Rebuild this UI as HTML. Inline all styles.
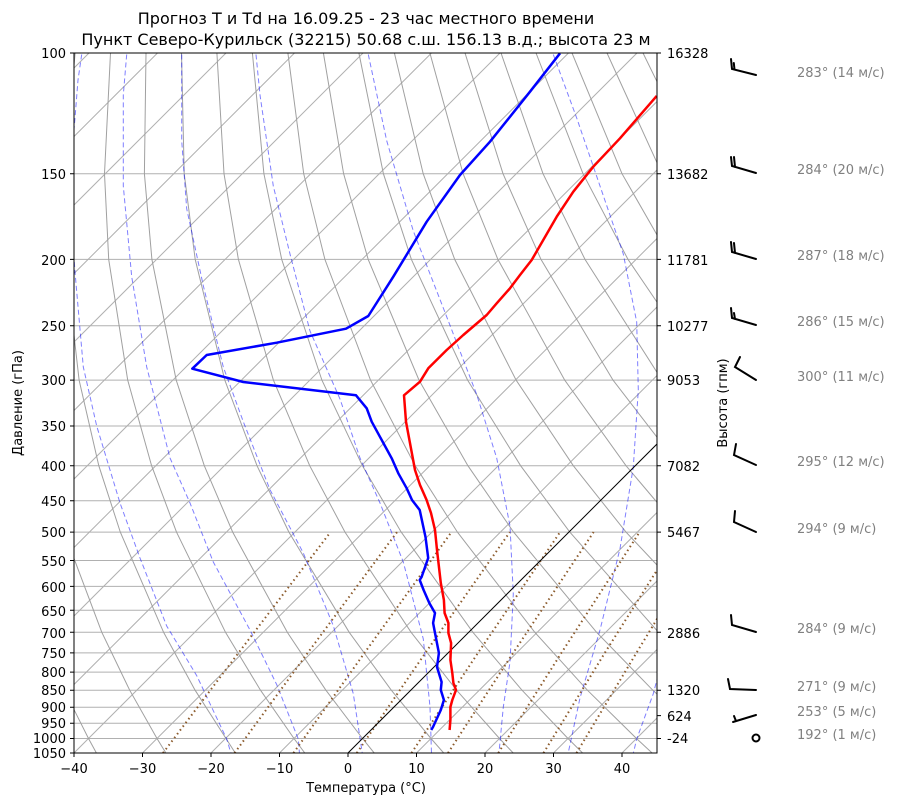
<!DOCTYPE html>
<html><head><meta charset="utf-8">
<style>
body{margin:0;background:#fff;}
svg{display:block;font-family:"DejaVu Sans","Liberation Sans",sans-serif;}
</style></head>
<body>
<svg width="900" height="806" xmlns="http://www.w3.org/2000/svg">
<defs><clipPath id="c"><rect x="74" y="53" width="583" height="700"/></clipPath></defs>
<rect width="900" height="806" fill="#fff"/>
<g clip-path="url(#c)" fill="none">
<g stroke="#b0b0b0" stroke-width="1">
<path d="M74,173.7H657M74,259.4H657M74,325.8H657M74,380.1H657M74,426H657M74,465.7H657M74,500.8H657M74,532.1H657M74,560.5H657M74,586.4H657M74,610.3H657M74,632.3H657M74,652.9H657M74,672.1H657M74,690.2H657M74,707.2H657M74,723.3H657M74,738.5H657"/>
<path d="M-679.5,753L20.5,53M-611,753L89,53M-542.5,753L157.5,53M-474,753L226,53M-405.5,753L294.5,53M-337,753L363,53M-268.5,753L431.5,53M-200,753L500,53M-131.5,753L568.5,53M-63,753L637,53M5.5,753L705.5,53M74,753L774,53M142.5,753L842.5,53M211,753L911,53M279.5,753L979.5,53M416.5,753L1116.5,53M485,753L1185,53M553.5,753L1253.5,53M622,753L1322,53"/>
</g>
<g stroke="#a0a0a0" stroke-width="1">
<polyline points="96.4,753 88.5,738.5 64.3,690.2 39.9,632.3 7.9,532.1"/>
<polyline points="165.9,753 157,738.5 129.7,690.2 101.8,632.3 64.1,532.1 46.1,465.7 30.6,380.1 22.2,259.4 24.8,173.7 39.6,53"/>
<polyline points="235.3,753 226,738.5 195.1,690.2 163.6,632.3 120.3,532.1 98.8,465.7 79.1,380.1 65.4,259.4 64.7,173.7 75.1,53"/>
<polyline points="304.8,753 294,738.5 260.5,690.2 225.5,632.3 176.5,532.1 151.6,465.7 127.7,380.1 108.7,259.4 104.5,173.7 110.5,53"/>
<polyline points="374.2,753 362.5,738.5 325.9,690.2 287.3,632.3 232.7,532.1 204.3,465.7 176.2,380.1 151.9,259.4 144.4,173.7 146,53"/>
<polyline points="443.7,753 431,738.5 391.3,690.2 349.2,632.3 288.9,532.1 257,465.7 224.8,380.1 195.2,259.4 184.2,173.7 181.5,53"/>
<polyline points="513.2,753 499.5,738.5 456.6,690.2 411.1,632.3 345,532.1 309.7,465.7 273.4,380.1 238.4,259.4 224,173.7 216.9,53"/>
<polyline points="582.6,753 568,738.5 522,690.2 472.9,632.3 401.2,532.1 362.4,465.7 321.9,380.1 281.7,259.4 263.9,173.7 252.4,53"/>
<polyline points="652.1,753 636.5,738.5 587.4,690.2 534.8,632.3 457.4,532.1 415.2,465.7 370.5,380.1 324.9,259.4 303.7,173.7 287.9,53"/>
<polyline points="721.5,753 705,738.5 652.8,690.2 596.6,632.3 513.6,532.1 467.9,465.7 419,380.1 368.2,259.4 343.6,173.7 323.4,53"/>
<polyline points="791,753 773.5,738.5 718.2,690.2 658.5,632.3 569.8,532.1 520.6,465.7 467.6,380.1 411.4,259.4 383.4,173.7 358.9,53"/>
<polyline points="860.5,753 842,738.5 783.6,690.2 720.4,632.3 626,532.1 573.3,465.7 516.1,380.1 454.7,259.4 423.2,173.7 394.4,53"/>
<polyline points="929.9,753 910.5,738.5 849,690.2 782.2,632.3 682.2,532.1 626,465.7 564.7,380.1 497.9,259.4 463.1,173.7 429.9,53"/>
<polyline points="999,753 979,738.5 914,690.2 844,632.3 738,532.1 679,465.7 613,380.1 541,259.4 503,173.7 465,53"/>
<polyline points="1069,753 1048,738.5 980,690.2 906,632.3 795,532.1 731,465.7 662,380.1 585,259.4 543,173.7 501,53"/>
<polyline points="1138,753 1116,738.5 1045,690.2 968,632.3 851,532.1 784,465.7 710,380.1 628,259.4 583,173.7 536,53"/>
<polyline points="1208,753 1185,738.5 1110,690.2 1030,632.3 907,532.1 837,465.7 759,380.1 671,259.4 622,173.7 572,53"/>
<polyline points="1277,753 1253,738.5 1176,690.2 1091,632.3 963,532.1 890,465.7 807,380.1 714,259.4 662,173.7 607,53"/>
<polyline points="1347,753 1322,738.5 1241,690.2 1153,632.3 1019,532.1 942,465.7 856,380.1 758,259.4 702,173.7 643,53"/>
</g>
<g stroke="#0000ff" stroke-opacity="0.5" stroke-width="1" stroke-dasharray="5,3">
<polyline points="81.7,54.5 78,80 75,118 73,140"/>
<polyline points="72,230 75,272 83.3,367 96.7,426 120,503 140,558 166.7,626 196.7,675.6 226.7,739 233,760"/>
<polyline points="126.7,54.5 123.3,95 123.3,186 131.7,276.7 146.7,367 170,458 190,503 213.3,562 250,630 276.7,684.6 298.3,739 300,760"/>
<polyline points="181.7,54.5 181.7,140.7 186.7,208.7 203.3,285.7 223.3,367 243.3,421.7 270,489.7 303.3,553 333.3,625.7 353.3,693.7 363.3,760"/>
<polyline points="256,54.5 260,95 273.3,186 290,254 310,331 340,399 360,458 380,503 403.3,562 423.3,639 430,707 431.7,760"/>
<polyline points="368.3,54.5 386.7,140.7 413.3,231 443.3,308 476.7,394.5 496.7,458 510,526 513.3,594 510,662 503.3,707 498.3,760"/>
<polyline points="553.3,54.5 576.7,118 600,186 623.3,254 636.7,322 638.3,390 633.3,467 620,548.6 600,630 580,698 566.7,760"/>
<polyline points="662,660 653.3,693.7 636.7,739 631.7,760"/>
</g>
<g stroke="#8b5a2b" stroke-width="2" stroke-dasharray="1.5,3.2">
<polyline points="163,753 238.5,652.9 330.5,532.1"/>
<polyline points="234.6,753 307.7,652.9 397,532.1"/>
<polyline points="293.5,753 364.5,652.9 451.4,532.1"/>
<polyline points="356.8,753 425.4,652.9 509.8,532.1"/>
<polyline points="411.5,753 478,652.9 560.1,532.1"/>
<polyline points="448,753 513.2,652.9 593.6,532.1"/>
<polyline points="498.3,753 561.4,652.9 639.6,532.1"/>
<polyline points="543.5,753 604.8,652.9 681,532.1"/>
<polyline points="576.5,753 636.4,652.9 710,532.1"/>
</g>
<path d="M348,753L1048,53" stroke="#000" stroke-width="1"/>
</g>
<g clip-path="url(#c)" fill="none" stroke-width="2.5" stroke-linejoin="round">
<polyline stroke="#0000ff" points="560,53.3 530,91.7 490,141.7 460,175 426.7,221.7 393.3,276.7 368.3,316 346,328.7 276.7,342.7 206.7,355 192.3,368.7 243.3,382 356,395.3 366.7,408.3 371.7,421.7 391.7,458.3 398.3,473.3 406.7,488.3 412,500 419.7,510 425.5,537 428.2,558 421.6,577 419.7,580 423.6,590 429.3,603 435,613 433.1,623 435,633 438.9,653 437,667 441.6,682 440.8,690 443.9,700 440.8,710 433,727 431.2,730"/>
<polyline stroke="#ff0000" points="656.7,96 620,138.3 593.3,166.7 573.3,191.7 556.7,216.7 531.7,260 520,275 510,288.3 496.7,303.3 486.7,315 463.3,335 446.7,350 428.3,368.3 420,381.7 404,395.3 406,421.7 415,470 420,485 426.6,500 431,513 435,530 437,550 440.8,583 443.9,600 444.6,613 448.4,623 448.4,633 451.1,643 450.4,660 452.3,673 453.4,683 456,690 452.3,700 450.4,707 450.4,720 449.6,730"/>
</g>
<rect x="74" y="53" width="583" height="700" fill="none" stroke="#000" stroke-width="1"/>
<g stroke="#000" stroke-width="1">
<path d="M70,53H74M70,173.7H74M70,259.4H74M70,325.8H74M70,380.1H74M70,426H74M70,465.7H74M70,500.8H74M70,532.1H74M70,560.5H74M70,586.4H74M70,610.3H74M70,632.3H74M70,652.9H74M70,672.1H74M70,690.2H74M70,707.2H74M70,723.3H74M70,738.5H74M70,753H74"/>
<path d="M657,53H661M657,173.7H661M657,259.4H661M657,325.8H661M657,380.1H661M657,465.7H661M657,532.1H661M657,632.3H661M657,690.2H661M657,715.6H661M657,738.5H661"/>
<path d="M74,753V757M142.5,753V757M211,753V757M279.5,753V757M348,753V757M416.5,753V757M485,753V757M553.5,753V757M622,753V757"/>
</g>
<g font-size="13" fill="#000">
<g text-anchor="end">
<text x="66" y="58">100</text><text x="66" y="179">150</text><text x="66" y="265">200</text><text x="66" y="331">250</text><text x="66" y="385">300</text><text x="66" y="431">350</text><text x="66" y="471">400</text><text x="66" y="506">450</text><text x="66" y="537">500</text><text x="66" y="566">550</text><text x="66" y="592">600</text><text x="66" y="616">650</text><text x="66" y="638">700</text><text x="66" y="658">750</text><text x="66" y="677">800</text><text x="66" y="695">850</text><text x="66" y="712">900</text><text x="66" y="728">950</text><text x="66" y="743">1000</text><text x="66" y="758">1050</text>
</g>
<g text-anchor="middle">
<text x="74" y="773">−40</text><text x="142.5" y="773">−30</text><text x="211" y="773">−20</text><text x="279.5" y="773">−10</text><text x="348" y="773">0</text><text x="416.5" y="773">10</text><text x="485" y="773">20</text><text x="553.5" y="773">30</text><text x="622" y="773">40</text>
</g>
<g>
<text x="667" y="58">16328</text><text x="667" y="179">13682</text><text x="667" y="265">11781</text><text x="667" y="331">10277</text><text x="667" y="385">9053</text><text x="667" y="471">7082</text><text x="667" y="537">5467</text><text x="667" y="638">2886</text><text x="667" y="695">1320</text><text x="667" y="721">624</text><text x="667" y="743">-24</text>
</g>
<text x="366" y="792" text-anchor="middle">Температура (°C)</text>
<text transform="translate(22,403) rotate(-90)" text-anchor="middle">Давление (гПа)</text>
<text transform="translate(727,403) rotate(-90)" text-anchor="middle">Высота (гпм)</text>
</g>
<g font-size="16" text-anchor="middle">
<text x="366" y="24">Прогноз T и Td на 16.09.25 - 23 час местного времени</text>
<text x="366" y="45">Пункт Северо-Курильск (32215) 50.68 с.ш. 156.13 в.д.; высота 23 м</text>
</g>
<g font-size="13" fill="#808080">
<text x="797" y="77">283° (14 м/с)</text>
<text x="797" y="174">284° (20 м/с)</text>
<text x="797" y="260">287° (18 м/с)</text>
<text x="797" y="326">286° (15 м/с)</text>
<text x="797" y="381">300° (11 м/с)</text>
<text x="797" y="466">295° (12 м/с)</text>
<text x="797" y="533">294° (9 м/с)</text>
<text x="797" y="633">284° (9 м/с)</text>
<text x="797" y="691">271° (9 м/с)</text>
<text x="797" y="716">253° (5 м/с)</text>
<text x="797" y="739">192° (1 м/с)</text>
</g>
<g stroke="#000" stroke-width="2" fill="none" stroke-linecap="round">
<path d="M756,75 L732,69 L731,59 M734.5,69.6 L733.8,63"/>
<path d="M756,173 L732,166 L731,157 M735,167 L734,157"/>
<path d="M756,259 L732,252 L731,242 M735,253 L734,243"/>
<path d="M756,325 L732,318 L731,308 M735,319 L734,313"/>
<path d="M756,380 L735,367 L740,357"/>
<path d="M756,465 L734,455 L736,444"/>
<path d="M756,532 L734,522 L735,511"/>
<path d="M756,632 L732,625 L731,615"/>
<path d="M756,690 L730,689 L728,679"/>
<path d="M756,715 L733,722 M736,721 L734,716"/>
<circle cx="756" cy="738" r="3.5"/>
</g>
</svg>
</body></html>
